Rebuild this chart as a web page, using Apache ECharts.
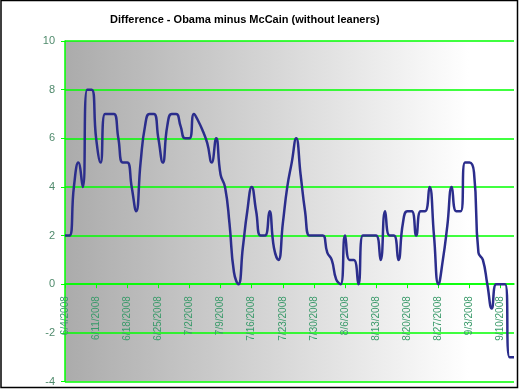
<!DOCTYPE html>
<html><head><meta charset="utf-8">
<script src="https://cdn.jsdelivr.net/npm/echarts@6/dist/echarts.min.js"></script>
<style>html,body{margin:0;padding:0;background:#fff}#c{width:522px;height:389px}</style>
</head><body><div id="c"></div>
<script>
const titleText = 'Difference - Obama minus McCain (without leaners)';
const dates = [
 '6/4/2008','6/5/2008','6/6/2008','6/7/2008','6/8/2008','6/9/2008','6/10/2008',
 '6/11/2008','6/12/2008','6/13/2008','6/14/2008','6/15/2008','6/16/2008','6/17/2008',
 '6/18/2008','6/19/2008','6/20/2008','6/21/2008','6/22/2008','6/23/2008','6/24/2008',
 '6/25/2008','6/26/2008','6/27/2008','6/28/2008','6/29/2008','6/30/2008','7/1/2008',
 '7/2/2008','7/3/2008','7/4/2008','7/5/2008','7/6/2008','7/7/2008','7/8/2008',
 '7/9/2008','7/10/2008','7/11/2008','7/12/2008','7/13/2008','7/14/2008','7/15/2008',
 '7/16/2008','7/17/2008','7/18/2008','7/19/2008','7/20/2008','7/21/2008','7/22/2008',
 '7/23/2008','7/24/2008','7/25/2008','7/26/2008','7/27/2008','7/28/2008','7/29/2008',
 '7/30/2008','7/31/2008','8/1/2008','8/2/2008','8/3/2008','8/4/2008','8/5/2008',
 '8/6/2008','8/7/2008','8/8/2008','8/9/2008','8/10/2008','8/11/2008','8/12/2008',
 '8/13/2008','8/14/2008','8/15/2008','8/16/2008','8/17/2008','8/18/2008','8/19/2008',
 '8/20/2008','8/21/2008','8/22/2008','8/23/2008','8/24/2008','8/25/2008','8/26/2008',
 '8/27/2008','8/28/2008','8/29/2008','8/30/2008','8/31/2008','9/1/2008','9/2/2008',
 '9/3/2008','9/4/2008','9/5/2008','9/6/2008','9/7/2008','9/8/2008','9/9/2008',
 '9/10/2008','9/11/2008','9/12/2008','9/13/2008'
];
const difference = [
 2, 2, 4, 5, 4, 8, 8,
 6, 5, 7, 7, 7, 6, 5,
 5, 4, 3, 5, 6.5, 7, 7,
 6, 5, 6.5, 7, 7, 6.5, 6,
 6, 7, 6.7, 6.3, 5.8, 5, 6,
 4.5, 4, 2.5, 0.5, 0, 1.5, 3,
 4, 3, 2, 2, 3, 1.5, 1,
 2.5, 4, 5, 6, 4.5, 3, 2,
 2, 2, 2, 1.3, 1, 0.2, 0,
 2, 1, 1, 0, 2, 2, 2,
 2, 1, 3, 2, 2, 1, 2.5,
 3, 3, 2, 3, 3, 4, 2,
 0, 1, 2.4, 4, 3, 3, 5,
 5, 4.6, 1.3, 1, 0, -1, 0,
 0, 0, -3, -3
];
const yMin = -4, yMax = 10, yStep = 2;

const gridTop = 41, gridBottom = 7.5, H = 389;
const plotH = H - gridTop - gridBottom;
const zeroOffset = -plotH * (0 - yMin) / (yMax - yMin);

const chart = echarts.init(document.getElementById('c'), null, {renderer:'canvas'});
chart.setOption({
  animation: false,
  backgroundColor: '#ffffff',
  title: {
    text: titleText, left: 105, top: 9,
    textStyle: {fontFamily: 'Liberation Sans', fontSize: 11, fontWeight: 'bold', color: '#000'}
  },
  grid: {
    left: 65, right: 8, top: gridTop, bottom: gridBottom, show: true, borderWidth: 0,
    containLabel: false, outerBoundsMode: 'none',
    backgroundColor: new echarts.graphic.LinearGradient(0, 0, 1, 0, [
      {offset: 0, color: '#ababab'}, {offset: 0.9, color: '#ffffff'}, {offset: 1, color: '#ffffff'}
    ])
  },
  xAxis: {
    type: 'category', data: dates, boundaryGap: false, offset: zeroOffset,
    axisLine: {onZero: false, lineStyle: {color: '#00ff00', width: 1.5}},
    axisTick: {interval: 6, length: 4, lineStyle: {color: '#00ff00'}},
    axisLabel: {interval: 6, rotate: 90, margin: 12, color: '#3a9a6a', fontSize: 10, fontFamily: 'Liberation Sans'},
    splitLine: {show: false}
  },
  yAxis: {
    type: 'value', min: yMin, max: yMax, interval: yStep,
    axisLine: {show: true, lineStyle: {color: '#00ff00', width: 1.5}},
    axisTick: {show: true, length: 4, lineStyle: {color: '#00ff00'}},
    axisLabel: {margin: 10, color: '#4f8a6c', fontSize: 11, fontFamily: 'Liberation Sans'},
    splitLine: {lineStyle: {color: '#00ff00', width: 1.6}}
  },
  series: [{
    type: 'line', data: difference, smooth: 0.5, symbol: 'none',
    lineStyle: {color: '#2b2d8c', width: 2.5}
  }],
  graphic: [{
    type: 'rect', silent: true, z: 100,
    shape: {x: 1, y: 0.5, width: 516.5, height: 387},
    style: {fill: 'none', stroke: '#000', lineWidth: 1.5}
  }]
});
</script></body></html>
